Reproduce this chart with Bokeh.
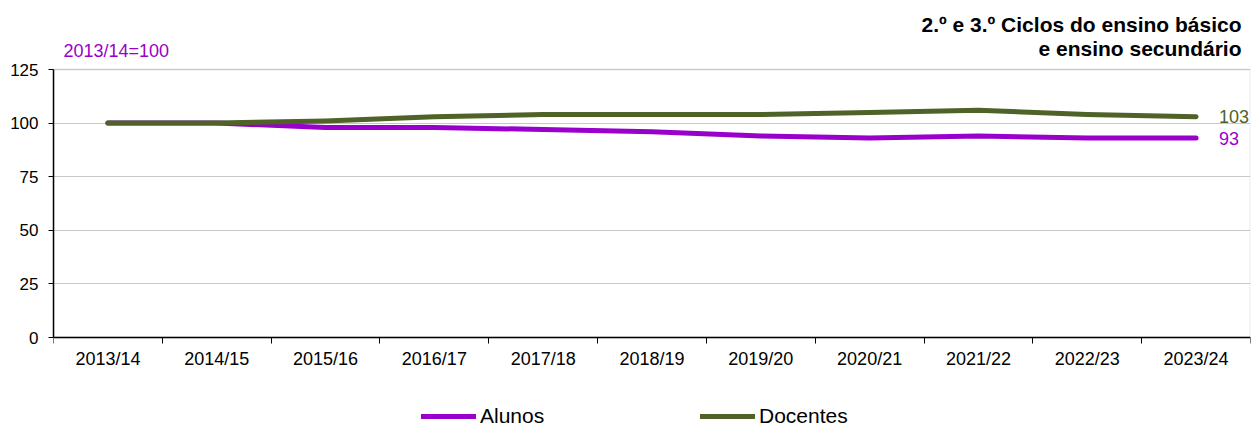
from bokeh.plotting import figure
from bokeh.models import Range1d, FixedTicker, Label, Legend, LegendItem, BoxAnnotation
from bokeh.core.properties import value
from bokeh.embed import file_html
from bokeh.resources import INLINE

categories = ["2013/14", "2014/15", "2015/16", "2016/17", "2017/18", "2018/19",
              "2019/20", "2020/21", "2021/22", "2022/23", "2023/24"]
alunos = [100, 100, 98, 98, 97, 96, 94, 93, 94, 93, 93]
docentes = [100, 100, 101, 103, 104, 104, 104, 105, 106, 104, 103]
y_ticks = [0, 25, 50, 75, 100, 125]
y_max = 125

PURPLE = "#9900CC"
GREEN = "#4F6228"
FONT = "Liberation Sans"

W, H = 1259, 428
LEFT, RIGHT_PAD = 53, 9
PLOT_TOP, PLOT_BOTTOM = 69, 337  # pixel rows of the 125 and 0 gridlines
ppu = (PLOT_BOTTOM - PLOT_TOP) / y_max
y_start = -(H - PLOT_BOTTOM) / ppu
y_end = y_max + PLOT_TOP / ppu

xs = list(range(len(categories)))

p = figure(width=W, height=H, output_backend="svg", toolbar_location=None,
           x_range=Range1d(-0.5, len(categories) - 0.5), y_range=Range1d(y_start, y_end),
           min_border_left=LEFT, min_border_right=RIGHT_PAD, min_border_top=0,
           min_border_bottom=0)
p.outline_line_color = None
p.background_fill_color = "white"
p.border_fill_color = "white"

# plot-area border (grey) drawn from the ranges
p.add_layout(BoxAnnotation(left=-0.5, right=len(categories) - 0.5, bottom=0, top=y_max,
                           fill_alpha=0, line_color="#bfbfbf", line_width=2, level="underlay"))

p.xgrid.grid_line_color = None
p.ygrid.grid_line_color = "#c8c8c8"
p.ygrid.grid_line_width = 1
p.ygrid.ticker = FixedTicker(ticks=y_ticks)

p.yaxis.ticker = FixedTicker(ticks=y_ticks)
p.yaxis.bounds = (0, y_max)
p.yaxis.axis_line_color = "black"
p.yaxis.axis_line_width = 1.5
p.yaxis.major_tick_line_color = "black"
p.yaxis.major_tick_out = 5
p.yaxis.major_tick_in = 0
p.yaxis.minor_tick_line_color = None
p.yaxis.major_label_text_font = FONT
p.yaxis.major_label_text_font_size = "17px"
p.yaxis.major_label_text_color = "black"
p.yaxis.major_label_standoff = 10

p.xaxis.fixed_location = 0
p.xaxis.ticker = FixedTicker(ticks=xs, minor_ticks=[i - 0.5 for i in range(len(categories) + 1)])
p.xaxis.major_label_overrides = {i: c for i, c in enumerate(categories)}
p.xaxis.axis_line_color = "black"
p.xaxis.axis_line_width = 1.5
p.xaxis.major_tick_line_color = None
p.xaxis.major_tick_out = 6
p.xaxis.minor_tick_line_color = "black"
p.xaxis.minor_tick_out = 6
p.xaxis.minor_tick_in = 0
p.xaxis.major_label_text_font = FONT
p.xaxis.major_label_text_font_size = "18px"
p.xaxis.major_label_text_color = "black"
p.xaxis.major_label_standoff = 5

r_al = p.line(xs, alunos, line_color=PURPLE, line_width=5, line_cap="round", line_join="round")
r_do = p.line(xs, docentes, line_color=GREEN, line_width=5, line_cap="round", line_join="round")

p.text(x=[xs[-1]], y=[docentes[-1]], text=[str(docentes[-1])], x_offset=23,
       text_font=value(FONT), text_font_size="18px", text_color=GREEN,
       text_align="left", text_baseline="middle")
p.text(x=[xs[-1]], y=[alunos[-1]], text=[str(alunos[-1])], x_offset=23,
       text_font=value(FONT), text_font_size="18px", text_color=PURPLE,
       text_align="left", text_baseline="middle")

p.add_layout(Label(x=10, y=378, x_units="screen", y_units="screen", text="2013/14=100",
                   text_font=FONT, text_font_size="18px", text_color=PURPLE,
                   text_baseline="middle", text_align="left"))
p.add_layout(Label(x=1188, y=404, x_units="screen", y_units="screen",
                   text="2.º e 3.º Ciclos do ensino básico",
                   text_font=FONT, text_font_size="21px", text_font_style="bold",
                   text_color="black", text_baseline="middle", text_align="right"))
p.add_layout(Label(x=1188, y=380, x_units="screen", y_units="screen",
                   text="e ensino secundário",
                   text_font=FONT, text_font_size="21px", text_font_style="bold",
                   text_color="black", text_baseline="middle", text_align="right"))

legend = Legend(items=[LegendItem(label="Alunos", renderers=[r_al]),
                       LegendItem(label="Docentes", renderers=[r_do])],
                location=(368, 0), orientation="horizontal", padding=0, margin=0,
                spacing=97, glyph_width=55, glyph_height=22, label_standoff=4,
                label_width=123,
                label_text_font=FONT, label_text_font_size="21px", label_text_color="black",
                border_line_color=None, background_fill_alpha=0)
p.add_layout(legend, "center")

open("out.html", "w").write(file_html(p, INLINE))
